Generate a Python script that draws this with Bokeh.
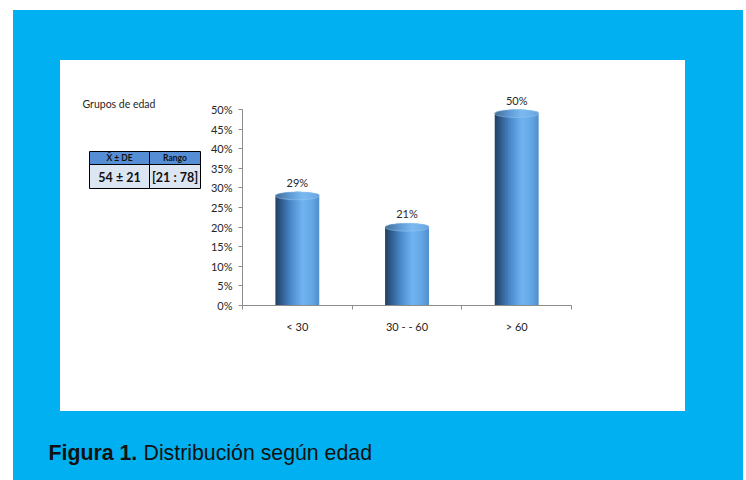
import math
from bokeh.plotting import figure
from bokeh.layouts import column, row
from bokeh.models import Range1d, LinearAxis, FixedTicker, NumeralTickFormatter
from bokeh.core.properties import value
from bokeh.embed import file_html
from bokeh.resources import INLINE

# ---------------- data ----------------
categories = ["< 30", "30 - - 60", "> 60"]
percentages = [0.29, 0.21, 0.50]
y_ticks = [0, 0.05, 0.10, 0.15, 0.20, 0.25, 0.30, 0.35, 0.40, 0.45, 0.50]
mean_age = 54
sd_age = 21
age_min = 21
age_max = 78
table_header = ["X\u0304 \u00b1 DE", "Rango"]
table_body = [f"{mean_age} \u00b1 {sd_age}", f"[{age_min} : {age_max}]"]
axis_title = "Grupos de edad"
caption_bold = "Figura 1."
caption_text = "Distribución según edad"

# ---------------- style ----------------
BLUE = "#00B0F0"
FONT = "Lato"
AXIS_GRAY = "#8C8C8C"
TXT = "#262626"
PX = 392.0  # pixels per unit on the y scale (196 px for 50%)
TOP_B = 25
BOT_B = 106
PANEL_H = 351


def filler(w, h):
    f = figure(width=w, height=h, x_axis_type=None, y_axis_type=None,
               min_border=0, outline_line_color=None,
               background_fill_color=BLUE, border_fill_color=BLUE,
               toolbar_location=None, output_backend="svg",
               styles={"background-color": BLUE})
    return f


# ---------------- chart ----------------
y_end = 0.5 + 24 / PX
p = figure(width=480, height=PANEL_H, x_range=Range1d(0, len(categories)),
           y_range=Range1d(0, y_end), x_axis_type=None, y_axis_type=None,
           min_border_left=37, min_border_right=114, min_border_top=TOP_B,
           min_border_bottom=BOT_B, outline_line_color=None,
           background_fill_color="white", border_fill_color="white",
           toolbar_location=None, output_backend="svg")

yaxis = LinearAxis(ticker=FixedTicker(ticks=y_ticks, minor_ticks=[]),
                   formatter=NumeralTickFormatter(format="0%"), bounds=(0, 0.5))
yaxis.axis_line_color = AXIS_GRAY
yaxis.major_tick_line_color = AXIS_GRAY
yaxis.major_tick_out = 4
yaxis.major_tick_in = 0
yaxis.minor_tick_line_color = None
yaxis.major_label_standoff = 6
yaxis.major_label_text_font = FONT
yaxis.major_label_text_font_size = "11px"
yaxis.major_label_text_color = TXT
p.add_layout(yaxis, "left")

centers = [i + 0.5 for i in range(len(categories))]
xaxis = LinearAxis(ticker=FixedTicker(ticks=centers,
                                      minor_ticks=list(range(len(categories) + 1))),
                   major_label_overrides={c: lab for c, lab in zip(centers, categories)})
xaxis.axis_line_color = AXIS_GRAY
xaxis.major_tick_line_color = None
xaxis.major_tick_out = 0
xaxis.major_tick_in = 0
xaxis.minor_tick_line_color = AXIS_GRAY
xaxis.minor_tick_out = 4
xaxis.minor_tick_in = 0
xaxis.major_label_standoff = 10
xaxis.major_label_text_font = FONT
xaxis.major_label_text_font_size = "11px"
xaxis.major_label_text_color = TXT
p.add_layout(xaxis, "below")

# cylinder-like gradient bars built from thin strips
stops = [(0.0, (0x22, 0x40, 0x60)), (0.14, (0x30, 0x5C, 0x8E)),
         (0.36, (0x4C, 0x8A, 0xCC)), (0.62, (0x70, 0xB4, 0xF1)),
         (0.84, (0x64, 0xA6, 0xE4)), (1.0, (0x50, 0x8D, 0xCD))]


def grad(t):
    for (t0, c0), (t1, c1) in zip(stops[:-1], stops[1:]):
        if t <= t1:
            f = (t - t0) / (t1 - t0)
            c = [round(a + (b - a) * f) for a, b in zip(c0, c1)]
            return "#%02x%02x%02x" % tuple(c)
    return "#%02x%02x%02x" % stops[-1][1]


bar_w = 0.40
n_strips = 30
step = bar_w / n_strips
r = 4 / PX
for k in range(n_strips):
    t = (k + 0.5) / n_strips
    u = (t - 0.5) * 2
    drop = r * (1 - math.sqrt(max(0.0, 1 - u * u)))
    lefts = [c - bar_w / 2 + k * step for c in centers]
    rights = [min(c - bar_w / 2 + (k + 1.7) * step, c + bar_w / 2) for c in centers]
    p.quad(left=lefts, right=rights, top=[v - drop for v in percentages],
           bottom=[0] * len(centers), fill_color=grad(t), line_color=None)

p.ellipse(x=centers, y=[v - r for v in percentages], width=bar_w, height=2 * r,
          fill_color="#8CC4F2", fill_alpha=0.35, line_color="#9CCBF2",
          line_alpha=0.6, line_width=0.8)

p.text(x=centers, y=percentages, text=[f"{round(v * 100)}%" for v in percentages],
       text_align="center", text_baseline="bottom", y_offset=-3,
       text_font=value(FONT), text_font_size="11px", text_color=TXT)

# ---------------- left panel: title + table ----------------
# frame aligned with the chart frame (rows align plot frames)
t = figure(width=145, height=PANEL_H, x_range=Range1d(0, 145),
           y_range=Range1d(PANEL_H - BOT_B, TOP_B),
           x_axis_type=None, y_axis_type=None, min_border_left=0,
           min_border_right=0, min_border_top=TOP_B, min_border_bottom=BOT_B,
           outline_line_color=None, background_fill_color="white",
           border_fill_color="white", toolbar_location=None, output_backend="svg")

t.text(x=[22], y=[43], text=[axis_title], text_align="left", text_baseline="middle",
       text_font=value(FONT), text_font_size="10.5px", text_color=TXT)

col_l = [29, 89]
col_r = [89, 140]
t.quad(left=col_l, right=col_r, top=[91, 91], bottom=[104, 104],
       fill_color="#558ED5", line_color="black", line_width=1)
t.quad(left=col_l, right=col_r, top=[104, 104], bottom=[128, 128],
       fill_color="#DCE6F2", line_color="black", line_width=1)
t.text(x=[(a + b) / 2 for a, b in zip(col_l, col_r)], y=[97.5, 97.5], text=table_header,
       text_align="center", text_baseline="middle", text_font=value(FONT),
       text_font_size="8.5px", text_font_style="bold", text_color="#111111")
t.text(x=[(a + b) / 2 for a, b in zip(col_l, col_r)], y=[116.5, 116.5], text=table_body,
       text_align="center", text_baseline="middle", text_font=value(FONT),
       text_font_size="12.5px", text_font_style="bold", text_color="#111111")

# ---------------- caption ----------------
CAP_H = 69
c = figure(width=730, height=CAP_H, x_range=Range1d(0, 730), y_range=Range1d(CAP_H, 0),
           x_axis_type=None, y_axis_type=None, min_border=0,
           outline_line_color=None, background_fill_color=BLUE,
           border_fill_color=BLUE, toolbar_location=None, output_backend="svg",
           styles={"background-color": BLUE})
c.text(x=[35], y=[41], text=[caption_bold], text_align="left",
       text_baseline="alphabetic", text_font=value("Liberation Sans"),
       text_font_size="21.3px", text_font_style="bold", text_color="#111111")
c.text(x=[130], y=[41], text=[caption_text], text_align="left",
       text_baseline="alphabetic", text_font=value("Liberation Sans"),
       text_font_size="21.3px", text_color="#111111")

root = column(
    filler(730, 50),
    row(filler(47, PANEL_H), t, p, filler(58, PANEL_H)),
    c,
    margin=(10, 0, 0, 13),
)

open("out.html", "w").write(file_html(root, INLINE))
